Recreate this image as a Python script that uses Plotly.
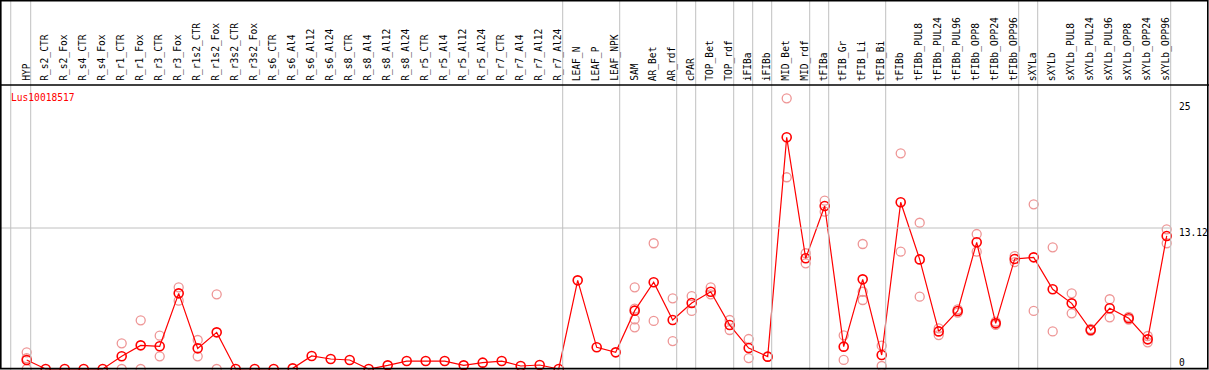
import plotly.graph_objects as go

gene = "Lus10018517"

samples = ["HYP", "R_s2_CTR", "R_s2_Fox", "R_s4_CTR", "R_s4_Fox", "R_r1_CTR", "R_r1_Fox",
           "R_r3_CTR", "R_r3_Fox", "R_r1s2_CTR", "R_r1s2_Fox", "R_r3s2_CTR", "R_r3s2_Fox",
           "R_s6_CTR", "R_s6_Al4", "R_s6_Al12", "R_s6_Al24", "R_s8_CTR", "R_s8_Al4", "R_s8_Al12",
           "R_s8_Al24", "R_r5_CTR", "R_r5_Al4", "R_r5_Al12", "R_r5_Al24", "R_r7_CTR", "R_r7_Al4",
           "R_r7_Al12", "R_r7_Al24", "LEAF_N", "LEAF_P", "LEAF_NPK", "SAM", "AR_Bet", "AR_rdf",
           "cPAR", "TOP_Bet", "TOP_rdf", "iFIBa", "iFIBb", "MID_Bet", "MID_rdf", "tFIBa",
           "tFIB_Gr", "tFIB_Li", "tFIB_Bi", "tFIBb", "tFIBb_PUL8", "tFIBb_PUL24", "tFIBb_PUL96",
           "tFIBb_OPP8", "tFIBb_OPP24", "tFIBb_OPP96", "sXYLa", "sXYLb", "sXYLb_PUL8",
           "sXYLb_PUL24", "sXYLb_PUL96", "sXYLb_OPP8", "sXYLb_OPP24", "sXYLb_OPP96"]

mean_values = [0.84, 0, 0, 0, 0, 1.18, 2.2, 2.11, 7.04, 1.92, 3.41, 0, 0,
               0, 0.06, 1.21, 0.93, 0.84, 0, 0.34, 0.74, 0.74, 0.74, 0.34, 0.59,
               0.74, 0.28, 0.37, 0, 8.25, 2.02, 1.55, 5.43, 8.07, 4.56,
               6.14, 7.19, 4.09, 1.95, 1.15, 21.56, 10.3, 15.17,
               2.08, 8.34, 1.3, 15.51, 10.2, 3.5, 5.4,
               11.79, 4.25, 10.24, 10.39, 7.42, 6.11,
               3.63, 5.65, 4.72, 2.76, 12.38]

# replicate measurements (sample name, value)
rep_samples = ["HYP", "HYP", "HYP",
               "R_r1_CTR", "R_r1_CTR", "R_r1_Fox", "R_r1_Fox",
               "R_r3_CTR", "R_r3_CTR", "R_r3_Fox", "R_r3_Fox",
               "R_r1s2_CTR", "R_r1s2_CTR", "R_r1s2_Fox", "R_r1s2_Fox",
               "SAM", "SAM", "SAM", "SAM", "AR_Bet", "AR_Bet", "AR_rdf", "AR_rdf",
               "cPAR", "cPAR", "TOP_Bet", "TOP_Bet", "TOP_rdf", "TOP_rdf",
               "iFIBa", "iFIBa", "iFIBb", "MID_Bet", "MID_Bet", "MID_rdf", "MID_rdf",
               "tFIBa", "tFIBa", "tFIB_Gr", "tFIB_Gr", "tFIB_Li", "tFIB_Li", "tFIB_Li",
               "tFIB_Bi", "tFIB_Bi", "tFIBb", "tFIBb", "tFIBb_PUL8", "tFIBb_PUL8",
               "tFIBb_PUL24", "tFIBb_PUL24", "tFIBb_PUL96", "tFIBb_PUL96",
               "tFIBb_OPP8", "tFIBb_OPP8", "tFIBb_OPP24", "tFIBb_OPP24",
               "tFIBb_OPP96", "tFIBb_OPP96", "sXYLa", "sXYLa", "sXYLb", "sXYLb",
               "sXYLb_PUL8", "sXYLb_PUL8", "sXYLb_PUL24", "sXYLb_PUL24",
               "sXYLb_PUL96", "sXYLb_PUL96", "sXYLb_OPP8", "sXYLb_OPP8",
               "sXYLb_OPP24", "sXYLb_OPP24", "sXYLb_OPP96", "sXYLb_OPP96"]
rep_values = [1.55, 1.0, 0.0,
              2.39, 0.0, 4.53, 0.0,
              3.1, 1.18, 7.6, 6.36,
              2.7, 1.18, 6.95, 0.0,
              7.6, 5.61, 4.62, 3.88, 11.7, 4.47, 6.58, 2.6,
              6.79, 5.4, 7.6, 6.95, 4.56, 3.63,
              2.79, 1.02, 1.15, 25.19, 17.84, 10.77, 9.83,
              15.66, 14.64, 3.13, 0.84, 11.63, 7.19, 6.42,
              2.17, 0.28, 20.07, 10.92, 13.61, 6.73,
              3.78, 3.16, 5.55, 5.25,
              12.56, 10.92, 4.4, 4.1,
              10.5, 9.95, 15.32, 5.4, 11.32, 3.5,
              7.04, 5.18, 3.72, 3.55,
              6.49, 4.81, 4.85, 4.6,
              3.07, 2.48, 13.0, 11.7]

# sample groups separated by vertical rules (last member of each group)
group_ends = ["HYP", "R_r7_Al24", "LEAF_NPK", "AR_rdf", "cPAR", "TOP_rdf", "iFIBa",
              "iFIBb", "MID_rdf", "tFIBa", "tFIB_Bi", "tFIBb_OPP96", "sXYLa", "sXYLb_OPP96"]

y_ticks = [0, 13.12, 25]
y_tick_labels = ["0", "13.12", "25"]

# ---------------- layout geometry ----------------
W, H = 1209, 370
COL = 19.0            # px per sample column
X0 = 26.7             # px of first column
PXU = 141.0 / 13.12   # px per expression unit
Y0 = 369.0            # px of value 0
HEADER_Y = 85.0
RIGHT_AX = 1170.0
FS = 9.6

xr = [-X0 / COL, (W - X0) / COL]
yr = [-(H - Y0) / PXU, Y0 / PXU]

idx = {s: i for i, s in enumerate(samples)}

def py(p):
    return 1 - p / H

def px(p):
    return p / W

fig = go.Figure()

fig.add_trace(go.Scatter(
    x=[idx[s] for s in rep_samples], y=rep_values, mode="markers",
    marker=dict(symbol="circle-open", size=9, color="rgb(238,150,150)",
                line=dict(width=1.3, color="rgb(238,150,150)")),
    hoverinfo="skip", showlegend=False, cliponaxis=True))

fig.add_trace(go.Scatter(
    x=list(range(len(samples))), y=mean_values, mode="lines+markers",
    line=dict(color="red", width=1.2),
    marker=dict(symbol="circle-open", size=9, color="red",
                line=dict(width=1.6, color="red")),
    showlegend=False, cliponaxis=True))

shapes = []
# vertical group separators
shapes.append(dict(type="line", xref="x", yref="paper", x0=-1 + 0.16, x1=-1 + 0.16,
                   y0=0, y1=1, line=dict(color="#c0c0c0", width=1)))
for g in group_ends:
    xv = idx[g] + 0.21
    shapes.append(dict(type="line", xref="x", yref="paper", x0=xv, x1=xv,
                       y0=0, y1=1, line=dict(color="#c0c0c0", width=1)))
# middle horizontal rule
shapes.append(dict(type="line", xref="paper", yref="y", x0=0, x1=px(RIGHT_AX),
                   y0=y_ticks[1], y1=y_ticks[1], line=dict(color="#c0c0c0", width=1)))
# header separator
shapes.append(dict(type="line", xref="paper", yref="paper", x0=0, x1=1,
                   y0=py(HEADER_Y), y1=py(HEADER_Y), line=dict(color="black", width=1.5)))
# outer frame
shapes.append(dict(type="rect", xref="paper", yref="paper", x0=px(0.8), x1=px(1207.8),
                   y0=py(368.6), y1=py(0.6), line=dict(color="black", width=1.6)))

annotations = []
for i, s in enumerate(samples):
    annotations.append(dict(x=i - 0.05, y=py(HEADER_Y - 2), xref="x", yref="paper",
                            text=s, textangle=-90, showarrow=False,
                            xanchor="center", yanchor="bottom",
                            font=dict(family="DejaVu Sans Mono", size=FS, color="black")))
annotations.append(dict(x=px(9), y=py(97.5), xref="paper", yref="paper", text=gene,
                        showarrow=False, xanchor="left", yanchor="middle",
                        font=dict(family="DejaVu Sans Mono", size=FS, color="red")))
label_px = {"0": 362.3, "13.12": 232.7, "25": 106.7}
for v, t in zip(y_ticks, y_tick_labels):
    annotations.append(dict(x=px(1177), y=py(label_px[t]), xref="paper", yref="paper",
                            text=t, showarrow=False, xanchor="left", yanchor="middle",
                            font=dict(family="DejaVu Sans Mono", size=FS, color="black")))

fig.update_layout(
    width=W, height=H, margin=dict(l=0, r=0, t=0, b=0),
    paper_bgcolor="white", plot_bgcolor="white",
    xaxis=dict(range=xr, visible=False, showgrid=False, zeroline=False),
    yaxis=dict(range=yr, visible=False, showgrid=False, zeroline=False),
    shapes=shapes, annotations=annotations,
)

fig.write_html("out.html", config={"displayModeBar": False},
               post_script="document.body.style.margin='0px';document.body.style.overflow='hidden';")
